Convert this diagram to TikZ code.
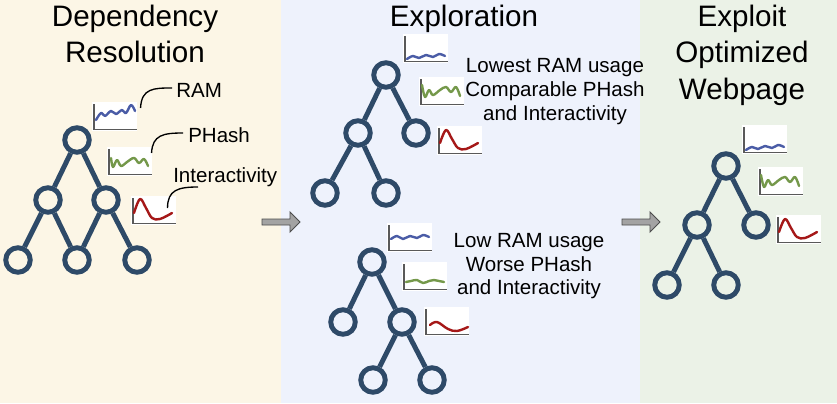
\documentclass[tikz,border=0pt]{standalone}
\usepackage{fontspec}
\setmainfont{Liberation Sans}
\usetikzlibrary{calc}
\definecolor{leftbg}{HTML}{FCF6E6}
\definecolor{midbg}{HTML}{EEF2FC}
\definecolor{rightbg}{HTML}{EBF2E7}
\definecolor{treeblue}{HTML}{2E4A68}
\definecolor{ramblue}{HTML}{4A5CA6}
\definecolor{phgreen}{HTML}{74984A}
\definecolor{intred}{HTML}{A51818}
\definecolor{arrowgray}{HTML}{A3A3A3}
\tikzset{
  tnode/.style={circle, draw=treeblue, line width=3.7pt, minimum size=18.4pt, inner sep=0pt},
  tedge/.style={draw=treeblue, line width=3.7pt},
  chart/.style={rectangle, fill=white, minimum width=33.75pt, minimum height=21.75pt, inner sep=0pt, anchor=north west},
  axisline/.style={draw=gray!70!black, line width=0.8pt},
  curve/.style={line width=1.8pt, line cap=round, line join=round},
  titletext/.style={font=\fontsize{22.2pt}{26pt}\selectfont, anchor=base, inner sep=0pt},
  labeltext/.style={font=\fontsize{15.4pt}{18pt}\selectfont, inner sep=0pt},
  leader/.style={draw=black, line width=1pt},
  blockarrow/.style={fill=arrowgray, draw=gray!60!black, line width=0.7pt}
}
\newcommand{\mkchart}[5]{%
  \node[chart] (#1) at (#2,#3) {};
  \draw[axisline] ([shift={(2,2)}]#1.north west) -- ([shift={(2,-2)}]#1.south west) -- ([shift={(-1,-2)}]#1.south east);
  \begin{scope}[shift={(#1.north west)}]
    \draw[#4, curve] plot[smooth, tension=0.6] coordinates {#5};
  \end{scope}}
\begin{document}
\begin{tikzpicture}[x=0.75pt, y=-0.75pt]
\useasboundingbox (0,0) rectangle (837,403);
\fill[leftbg] (0,0) rectangle (281,403);
\fill[midbg] (281,0) rectangle (640,403);
\fill[rightbg] (640,0) rectangle (837,403);

% titles
\node[titletext] (t1a) at (135,27) {Dependency};
\node[titletext] (t1b) at (135,63) {Resolution};
\node[titletext] (t2) at (464,27) {Exploration};
\node[titletext] (t3a) at (742,27) {Exploit};
\node[titletext] (t3b) at (742,63) {Optimized};
\node[titletext] (t3c) at (742,99) {Webpage};

% ---------- left tree ----------
\node[tnode] (l1) at (77,140) {};
\node[tnode] (l2) at (48,200) {};
\node[tnode] (l3) at (106,200) {};
\node[tnode] (l4) at (18,260) {};
\node[tnode] (l5) at (77,260) {};
\node[tnode] (l6) at (137,260) {};
\draw[tedge] (l1) -- (l2);
\draw[tedge] (l1) -- (l3);
\draw[tedge] (l2) -- (l4);
\draw[tedge] (l2) -- (l5);
\draw[tedge] (l3) -- (l5);
\draw[tedge] (l3) -- (l6);

\mkchart{lram}{92}{102}{ramblue}{(4,18) (9,11) (13,14) (19,9) (24,12) (30,8) (34,11) (39,3) (43,9)}
\mkchart{lph}{107}{147}{phgreen}{(4,11) (6,20) (10,13) (14,19) (20,15) (27,11) (32,16) (37,12) (41,19)}
\mkchart{lint}{131}{196}{intred}{(3,17) (9,3) (15,12) (21,22) (29,23) (41,17)}

\node[labeltext, anchor=base west] (lramlbl) at (176,97) {RAM};
\node[labeltext, anchor=base west] (lphlbl) at (188,142) {PHash};
\node[labeltext, anchor=base west] (lintlbl) at (173,182) {Interactivity};
\draw[leader] ([shift={(3,6)}]lram.north east) .. controls ($(lram.north east)+(4,-14)$) and ($(lramlbl.base west)+(-22,-9)$) .. ($(lramlbl.base west)+(-4,-9)$);
\draw[leader] ([shift={(-1,6)}]lph.north east) .. controls ($(lph.north east)+(0,-12)$) and ($(lphlbl.base west)+(-25,-9)$) .. ($(lphlbl.base west)+(-5,-9)$);
\draw[leader] ([shift={(-9,12)}]lint.north east) .. controls ($(lint.north east)+(-9,-6)$) and ($(lintlbl.base west)+(5,5)$) .. ($(lintlbl.base west)+(25,5)$);

% arrow 1
\draw[blockarrow] (262,219) -- (290,219) -- (290,212) -- (300,222) -- (290,232) -- (290,225) -- (262,225) -- cycle;

% ---------- middle top tree ----------
\node[tnode] (a1) at (386,75) {};
\node[tnode] (a2) at (358,133) {};
\node[tnode] (a3) at (416,133) {};
\node[tnode] (a4) at (325,193) {};
\node[tnode] (a5) at (386,193) {};
\draw[tedge] (a1) -- (a2);
\draw[tedge] (a1) -- (a3);
\draw[tedge] (a2) -- (a4);
\draw[tedge] (a2) -- (a5);

\mkchart{aram}{403}{34}{ramblue}{(4,25) (10,22) (16,24) (23,21) (30,23) (36,20) (42,22)}
\mkchart{aph}{419}{77}{phgreen}{(3,8) (6,20) (10,13) (14,18) (21,13) (27,10) (32,15) (37,10) (41,19)}
\mkchart{aint}{437}{126}{intred}{(3,17) (9,4) (15,13) (21,22) (29,23) (41,17)}

\node[labeltext, anchor=base] (atx1) at (555,72) {Lowest RAM usage};
\node[labeltext, anchor=base] (atx2) at (555,96) {Comparable PHash};
\node[labeltext, anchor=base] (atx3) at (555,120) {and Interactivity};

% ---------- middle bottom tree ----------
\node[tnode] (b1) at (372,262) {};
\node[tnode] (b2) at (343,322) {};
\node[tnode] (b3) at (402,322) {};
\node[tnode] (b4) at (373,380) {};
\node[tnode] (b5) at (432,380) {};
\draw[tedge] (b1) -- (b2);
\draw[tedge] (b1) -- (b3);
\draw[tedge] (b3) -- (b4);
\draw[tedge] (b3) -- (b5);

\mkchart{bram}{387}{223}{ramblue}{(4,16) (10,13) (16,16) (23,13) (30,15) (36,12) (42,14)}
\mkchart{bph}{402}{262}{phgreen}{(4,20) (9,19) (15,18) (21,21) (27,19) (32,18) (37,19) (42,20)}
\mkchart{bint}{424}{307}{intred}{(6,18) (13,15) (24,22) (33,24) (44,20)}

\node[labeltext, anchor=base] (btx1) at (529,247) {Low RAM usage};
\node[labeltext, anchor=base] (btx2) at (529,271) {Worse PHash};
\node[labeltext, anchor=base] (btx3) at (529,294) {and Interactivity};

% arrow 2
\draw[blockarrow] (622,219) -- (650,219) -- (650,212) -- (660,222) -- (650,232) -- (650,225) -- (622,225) -- cycle;

% ---------- right tree ----------
\node[tnode] (c1) at (726,166) {};
\node[tnode] (c2) at (697,225) {};
\node[tnode] (c3) at (756,225) {};
\node[tnode] (c4) at (667,285) {};
\node[tnode] (c5) at (726,285) {};
\draw[tedge] (c1) -- (c2);
\draw[tedge] (c1) -- (c3);
\draw[tedge] (c2) -- (c4);
\draw[tedge] (c2) -- (c5);

\mkchart{cram}{742}{125}{ramblue}{(4,25) (10,22) (16,24) (23,21) (30,23) (36,20) (42,22)}
\mkchart{cph}{758}{167}{phgreen}{(3,8) (6,20) (10,13) (14,18) (21,13) (27,10) (32,15) (37,10) (41,19)}
\mkchart{cint}{776}{215}{intred}{(3,17) (9,4) (15,13) (21,22) (29,23) (41,17)}
\end{tikzpicture}
\end{document}
